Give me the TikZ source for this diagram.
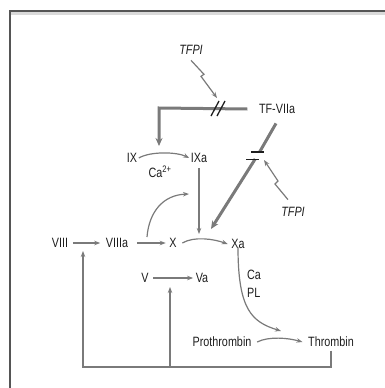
\documentclass[tikz,border=0pt]{standalone}
\usepackage{fontspec}
\setmainfont{Liberation Sans}[FakeStretch=0.8]
\usetikzlibrary{arrows.meta}
\definecolor{lgray}{HTML}{7A7A7A}
\definecolor{txt}{HTML}{1E1E1E}
\definecolor{frm}{HTML}{555555}
\definecolor{frl}{HTML}{DADADA}
\begin{document}
\begin{tikzpicture}[x=1pt,y=-1pt,
  lbl/.style={inner sep=1.5pt,text=txt,font=\fontsize{13.5}{15}\selectfont},
  ilbl/.style={lbl,font=\fontsize{13.5}{15}\selectfont\itshape},
  ln/.style={draw=lgray,line width=1.2pt},
  arr/.style={ln,-{Stealth[length=6pt,width=4.5pt]}},
  thk/.style={draw=lgray,line width=3pt},
  thkarr/.style={thk,-{Stealth[length=8pt,width=7pt]}},
  barmark/.style={draw=txt,line width=1.8pt},
  slash/.style={draw=txt,line width=1.3pt}]
\useasboundingbox (0,0) rectangle (385,388);
% frame
\fill[frl] (11,11.8) rectangle (385,14.5);
\draw[frm,line width=1.8pt] (10.2,388) -- (10.2,10.8) -- (385,10.8);

% nodes
\node[ilbl] (tfpi1) at (191,50) {TFPI};
\node[lbl] (tf) at (277,109) {TF-VIIa};
\node[lbl] (ix) at (132,158) {IX};
\node[lbl] (ixa) at (199,158) {IXa};
\node[lbl] (ca) at (160,172) {Ca\textsuperscript{2+}};
\node[ilbl] (tfpi2) at (293,212) {TFPI};
\node[lbl] (viii) at (60,243) {VIII};
\node[lbl] (viiia) at (117,243) {VIIIa};
\node[lbl] (x) at (173,243) {X};
\node[lbl] (xa) at (238,244) {Xa};
\node[lbl] (v) at (145,278) {V};
\node[lbl] (va) at (202,278) {Va};
\node[lbl,align=left] (capl) at (254,284) {Ca\\[3pt]PL};
\node[lbl] (pro) at (222,342) {Prothrombin};
\node[lbl] (thr) at (331,342) {Thrombin};

% coordinates
\coordinate (s1) at (217,98);
\coordinate (tfcorner) at (159,108);
\coordinate (ixin) at (159,146);
\coordinate (bartop) at (259.6,152);
\coordinate (barbot) at (255.2,159);
\coordinate (xin) at (211,229);
\coordinate (s2) at (264,160);
\coordinate (vstart) at (147,237);
\coordinate (vend) at (189,194);
\coordinate (ixdown) at (199,234);
\coordinate (thrin) at (281,331);
\coordinate (fbR) at (331,367);
\coordinate (fbL) at (83,367);
\coordinate (fbM) at (170,367);
\coordinate (viiiin) at (83,251);
\coordinate (vain) at (170,287);

% TF-VIIa -> IX activation (thick)
\draw[thkarr] (tf.west) ++(-10,0) -- (tfcorner) -- (ixin);
\draw[slash] (211,116) -- (219,101);
\draw[slash] (217,116) -- (225,101);
% TFPI lightning 1
\draw[arr] (tfpi1.south) ++(0,4) -- ++(13,14) -- ++(-3,2) -- (s1);

% TF-VIIa -> X (thick) with inhibition bars
\draw[thk] (tf.south) ++(-1,8) -- (bartop);
\draw[thkarr] (barbot) -- (xin);
\draw[barmark] (251,152) -- (264,152);
\draw[barmark] (246,159.5) -- (259,159.5);
% TFPI lightning 2
\draw[arr] (tfpi2.north) ++(-5,-6) -- (275,184) -- (278,181) -- (s2);

% IX -> IXa
\draw[arr] (ix.east) .. controls +(12,-7) and +(-12,-6) .. (ixa.west);
% IXa -> down
\draw[arr] (ixa.south) ++(0,4) -- (ixdown);
% VIIIa curve up
\draw[arr] (vstart) .. controls (149,212) and (163,195) .. (vend);
% VIII -> VIIIa, VIIIa -> X
\draw[arr] (viii.east) ++(3,0) -- ([xshift=-4pt]viiia.west);
\draw[arr] ([xshift=7pt]viiia.east) -- ([xshift=-2pt]x.west);
% X -> Xa
\draw[arr] ([xshift=4pt]x.east) .. controls +(12,-7) and +(-14,-5) .. ([xshift=-2pt]xa.west);
% V -> Va
\draw[arr] ([xshift=3pt]v.east) -- ([xshift=-1pt]va.west);
% Xa -> Thrombin
\draw[arr] ([yshift=3pt]xa.south) .. controls (238,310) and (252,322) .. (thrin);
% Prothrombin -> Thrombin
\draw[arr] ([xshift=4pt]pro.east) .. controls +(12,-6) and +(-14,-4) .. ([xshift=-4pt]thr.west);
% feedback
\draw[arr] ([yshift=-2pt]thr.south) -- (fbR) -- (fbL) -- (viiiin);
\draw[arr] (fbM) -- (vain);
\end{tikzpicture}
\end{document}
